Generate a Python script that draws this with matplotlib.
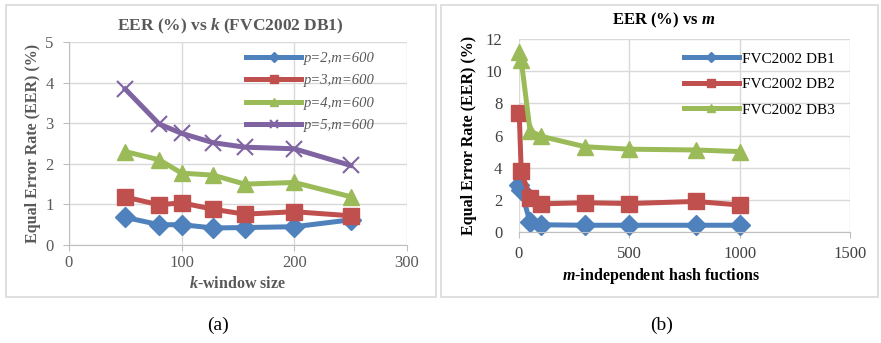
import matplotlib.pyplot as plt
from matplotlib.patches import Rectangle

plt.rcParams['font.family'] = ['Liberation Serif', 'DejaVu Serif']
plt.rcParams['mathtext.fontset'] = 'custom'
plt.rcParams['mathtext.it'] = 'Liberation Serif:italic:bold'
plt.rcParams['mathtext.rm'] = 'Liberation Serif:bold'

# (a) EER vs k-window size, FVC2002 DB1
k_vals = [50, 80, 100, 128, 156, 200, 250]
eer_p2 = [0.68, 0.50, 0.50, 0.42, 0.43, 0.45, 0.62]
eer_p3 = [1.18, 0.99, 1.04, 0.88, 0.76, 0.82, 0.72]
eer_p4 = [2.30, 2.10, 1.77, 1.72, 1.50, 1.54, 1.19]
eer_p5 = [3.84, 2.98, 2.75, 2.52, 2.41, 2.37, 1.96]
labels_a = ['p=2,m=600', 'p=3,m=600', 'p=4,m=600', 'p=5,m=600']

# (b) EER vs m
m_vals = [1, 10, 50, 100, 300, 500, 800, 1000]
eer_db1 = [2.9, 2.6, 0.6, 0.45, 0.42, 0.42, 0.42, 0.42]
eer_db2 = [7.4, 3.8, 2.1, 1.75, 1.82, 1.77, 1.9, 1.68]
eer_db3 = [11.2, 10.7, 6.3, 5.95, 5.3, 5.15, 5.1, 5.0]
labels_b = ['FVC2002 DB1', 'FVC2002 DB2', 'FVC2002 DB3']

colors = ['#4F81BD', '#C0504D', '#9BBB59', '#8064A2']
markers = ['D', 's', '^', 'x']
msizes = [10, 11, 11, 12]

fig = plt.figure(figsize=(8.81, 3.43), dpi=100)

# panel frames
fig.patches.append(Rectangle((6 / 881, 46 / 343), 430 / 881, 292 / 343,
                             transform=fig.transFigure, fill=False,
                             edgecolor='#D9D9D9', lw=1.2))
fig.patches.append(Rectangle((441 / 881, 46 / 343), 437 / 881, 292 / 343,
                             transform=fig.transFigure, fill=False,
                             edgecolor='#D9D9D9', lw=1.2))


def style_axes(ax, tick_color):
    ax.grid(True, color='#D9D9D9', lw=1)
    ax.set_axisbelow(True)
    for s in ['top', 'right']:
        ax.spines[s].set_visible(False)
    for s in ['left', 'bottom']:
        ax.spines[s].set_color('#BFBFBF')
    ax.tick_params(colors='#BFBFBF', labelcolor=tick_color, labelsize=12, length=4)


# left panel
ax1 = fig.add_axes([0.0783, 0.2857, 0.3837, 0.5918])
series_a = [eer_p2, eer_p3, eer_p4, eer_p5]
for ys, c, mk, ms, lab in zip(series_a, colors, markers, msizes, labels_a):
    ax1.plot(k_vals, ys, color=c, lw=3.6, marker=mk, markersize=ms,
             markeredgewidth=1.5 if mk == 'x' else 1, label=lab)
ax1.set_xlim(0, 300)
ax1.set_ylim(0, 5)
ax1.set_xticks([0, 100, 200, 300])
ax1.set_yticks(range(6))
style_axes(ax1, '#595959')
ax1.tick_params(axis='y', pad=7)
fig.text(230 / 881, 1 - 26 / 343, r'EER (%) vs $\mathit{k}$ (FVC2002 DB1)',
         ha='center', va='center', fontsize=12.5, fontweight='bold',
         color='#595959')
ax1.set_xlabel(r'$\mathit{k}$-window size', fontsize=11.5,
               fontweight='bold', color='#595959', labelpad=3)
ax1.set_ylabel('Equal Error Rate (EER) (%)', fontsize=11.5,
               fontweight='bold', color='#595959', labelpad=3)
leg1 = ax1.legend(loc='upper left', bbox_to_anchor=(0.506, 0.98), frameon=False,
                  handlelength=3.8, labelspacing=0.62, markerscale=0.5,
                  handletextpad=0.2, borderaxespad=0,
                  prop={'style': 'italic', 'size': 10.5})
for t in leg1.get_texts():
    t.set_color('#595959')

# right panel
ax2 = fig.add_axes([0.5891, 0.3236, 0.3757, 0.5627])
series_b = [eer_db1, eer_db2, eer_db3]
for ys, c, mk, ms, lab in zip(series_b, colors, markers, msizes, labels_b):
    ax2.plot(m_vals, ys, color=c, lw=3.6, marker=mk, markersize=ms, label=lab,
             clip_on=False)
ax2.set_xlim(0, 1500)
ax2.set_ylim(0, 12)
ax2.set_xticks([0, 500, 1000, 1500])
ax2.set_yticks(range(0, 13, 2))
style_axes(ax2, '#404040')
ax2.spines['left'].set_visible(False)
ax2.tick_params(axis='y', length=0, pad=12)
ax2.tick_params(axis='x', pad=6)
fig.text(664 / 881, 1 - 20 / 343, r'EER (%) vs $\mathit{m}$', ha='center',
         va='center', fontsize=12, fontweight='bold', color='black')
fig.text(661 / 881, 1 - 276 / 343, r'$\mathit{m}$-independent hash fuctions',
         ha='center', va='center', fontsize=11.5, fontweight='bold',
         color='black')
ax2.set_ylabel('Equal Error Rate (EER) (%)', fontsize=11.5,
               fontweight='bold', color='black', labelpad=6)
ax2.legend(loc='upper left', bbox_to_anchor=(0.48, 0.965), frameon=False,
           handlelength=3.6, fontsize=11, labelspacing=0.78, markerscale=0.5,
           handletextpad=0.2, borderaxespad=0)

fig.text(218 / 881, 1 - 325 / 343, '(a)', ha='center', va='center', fontsize=14)
fig.text(662 / 881, 1 - 325 / 343, '(b)', ha='center', va='center', fontsize=14)

fig.savefig('out.png', dpi=100)
